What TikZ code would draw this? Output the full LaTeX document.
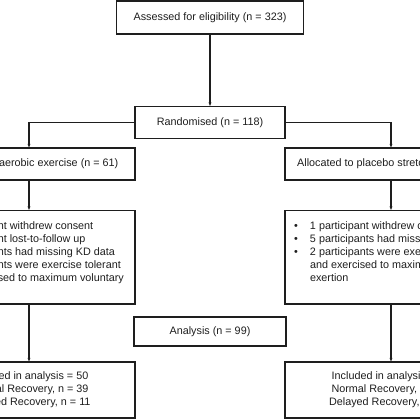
\documentclass[tikz,border=0pt]{standalone}
\usepackage{fontspec}
\setmainfont{Liberation Sans}
\usetikzlibrary{arrows.meta}
\definecolor{FCink}{HTML}{1E1E1E}
\newcommand{\flowfont}{\fontsize{10.8}{13}\selectfont}
% one bullet line with hanging indent
\newcommand{\bitem}{\par\hangindent=25pt\hangafter=1\noindent\hbox to 25pt{\hskip 9pt\textbullet\hfil}\strut}
% top-aligned text in the fixed-height exclusion boxes
\newcommand{\bulletbox}[1]{\parbox[c][93.5pt][t]{212pt}{\raggedright\vspace*{9.5pt}#1}}

\begin{document}
\begin{tikzpicture}[x=1pt, y=-1pt, >={Stealth[length=3.5pt, width=3pt]}, font=\flowfont,
    box/.style={draw=FCink, line width=1.3pt, inner sep=0pt, align=center, text=FCink},
    link/.style={draw=FCink, line width=1.1pt, ->}]
    \useasboundingbox (0,0) rectangle (420,420);
    \clip (0,0) rectangle (420,420);
    % enrolment
    \node[box, minimum width=187pt, minimum height=33pt] (assess) at (210,17.5) {Assessed for eligibility (n = 323)};
    \node[box, minimum width=150pt, minimum height=32pt] (rand) at (210,122.5) {Randomised (n = 118)};
    % allocation
    \node[box, minimum width=212pt, minimum height=32pt] (aero) at (29,164) {Allocated to aerobic exercise (n = 61)};
    \node[box, minimum width=212pt, minimum height=32pt] (plac) at (391,164) {Allocated to placebo stretching (n = 57)};
    % exclusions
    \node[box, minimum width=212pt, minimum height=93.5pt] (exA) at (29,257.25) {\bulletbox{%
        \bitem 1 participant withdrew consent
        \bitem 1 participant lost-to-follow up
        \bitem 3 participants had missing KD data
        \bitem 6 participants were exercise tolerant\newline and exercised to maximum voluntary\newline exertion}};
    \node[box, minimum width=212pt, minimum height=93.5pt] (exP) at (391,257.25) {\bulletbox{%
        \bitem 1 participant withdrew consent
        \bitem 5 participants had missing KD data
        \bitem 2 participants were exercise tolerant\newline and exercised to maximum voluntary\newline exertion}};
    % analysis
    \node[box, minimum width=152pt, minimum height=29pt] (anal) at (210,331.5) {Analysis (n = 99)};
    \node[box, minimum width=212pt, minimum height=56pt] (incA) at (29,390) {Included in analysis = 50\\Normal Recovery, n = 39\\Delayed Recovery, n = 11};
    \node[box, minimum width=212pt, minimum height=56pt] (incP) at (391,390) {Included in analysis = 49\\Normal Recovery, n = 36\\Delayed Recovery, n = 13};
    % connectors
    \draw[link] (assess) -- (rand);
    \draw[link] (rand.west) -| (aero.north);
    \draw[link] (rand.east) -| (plac.north);
    \draw[link] (aero) -- (exA);
    \draw[link] (plac) -- (exP);
    \draw[link] (exA) -- (incA);
    \draw[link] (exP) -- (incP);
\end{tikzpicture}
\end{document}
